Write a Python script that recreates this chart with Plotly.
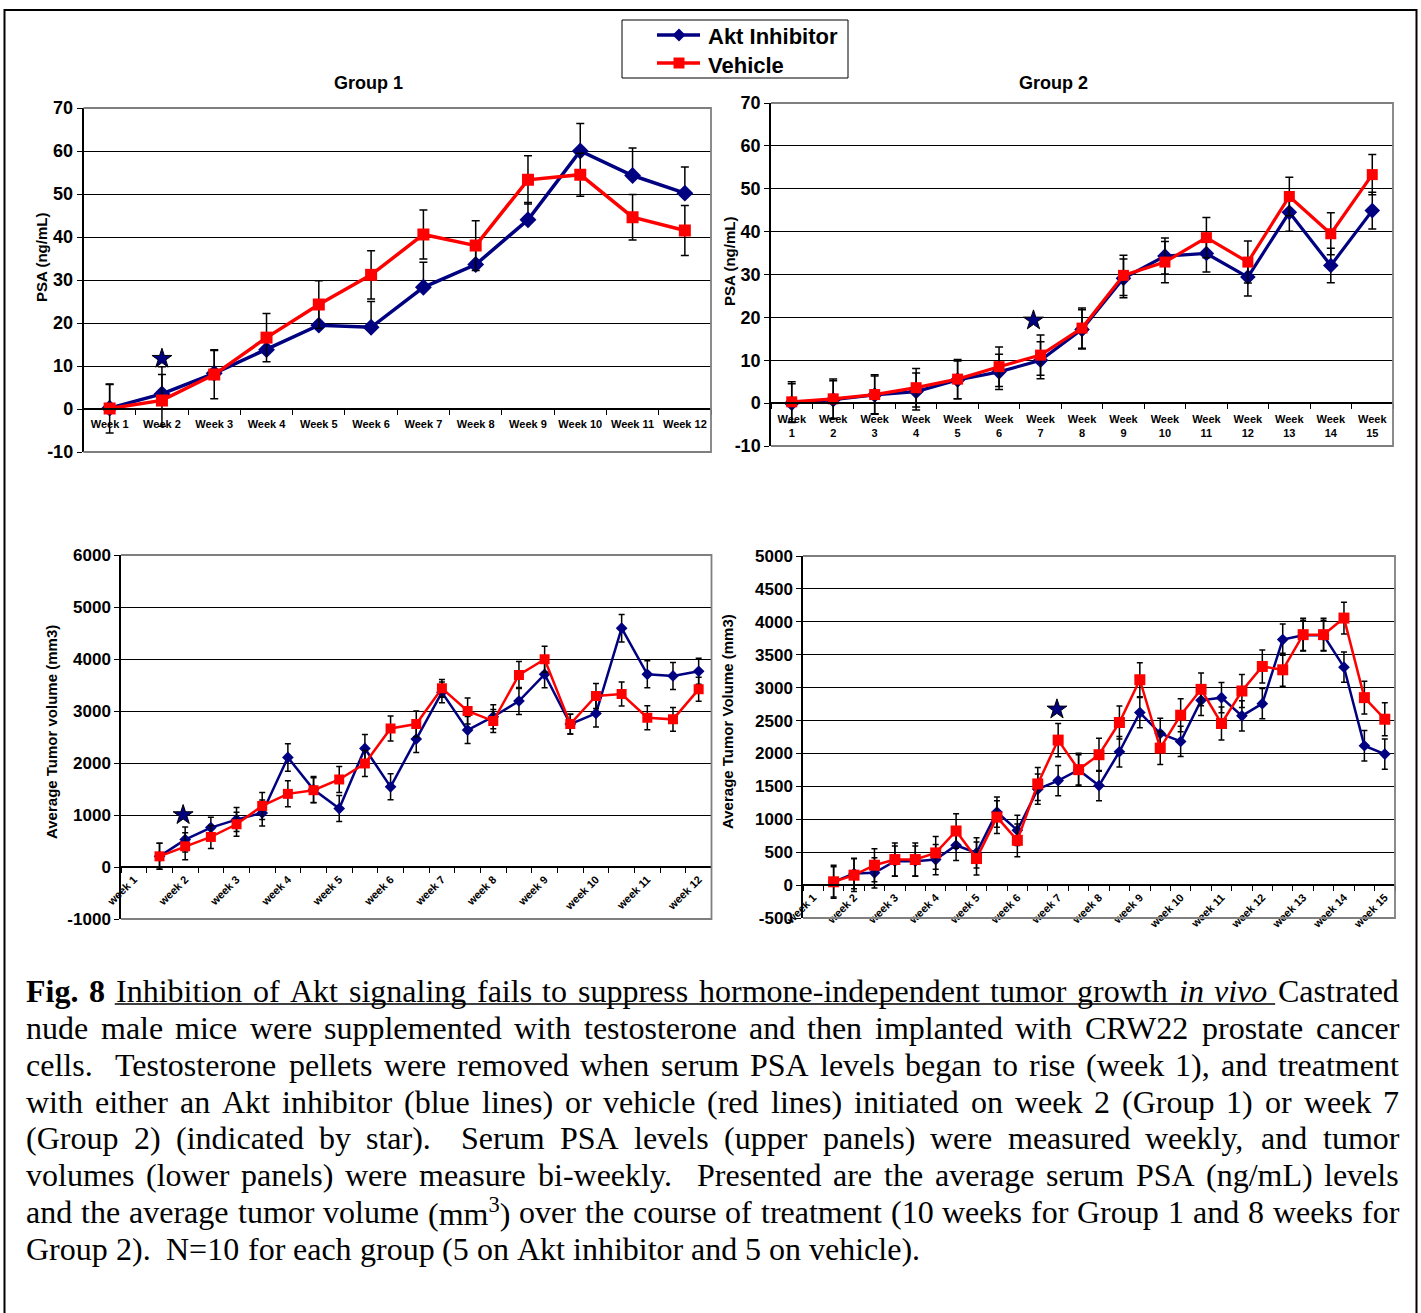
import plotly.graph_objects as go

W, H = 1421, 1313

# ---------------- data ----------------
PSA1_WEEKS = [1, 2, 3, 4, 5, 6, 7, 8, 9, 10, 11, 12]
PSA1_LABELS = ["Week 1", "Week 2", "Week 3", "Week 4", "Week 5", "Week 6",
               "Week 7", "Week 8", "Week 9", "Week 10", "Week 11", "Week 12"]
PSA1_AKT = [0.2, 3.5, 8.3, 13.8, 19.5, 19.0, 28.3, 33.6, 44.0, 60.0, 54.3, 50.2]
PSA1_AKT_ERR = [5.5, 6.3, 5.5, 3.0, 4.0, 6.0, 5.8, 4.0, 4.0, 6.4, 6.4, 6.1]
PSA1_VEH = [0.1, 2.0, 8.0, 16.6, 24.3, 31.2, 40.6, 38.0, 53.3, 54.5, 44.6, 41.5]
PSA1_VEH_ERR = [5.7, 6.0, 5.6, 5.6, 5.5, 5.6, 5.7, 5.8, 5.6, 5.0, 5.3, 5.8]
PSA1_STAR = (2.0, 11.7)
PSA_TICKS = [-10, 0, 10, 20, 30, 40, 50, 60, 70]

PSA2_WEEKS = [1, 2, 3, 4, 5, 6, 7, 8, 9, 10, 11, 12, 13, 14, 15]
PSA2_LABELS = ["Week<br>1", "Week<br>2", "Week<br>3", "Week<br>4", "Week<br>5",
               "Week<br>6", "Week<br>7", "Week<br>8", "Week<br>9", "Week<br>10",
               "Week<br>11", "Week<br>12", "Week<br>13", "Week<br>14", "Week<br>15"]
PSA2_AKT = [0.0, 0.8, 1.9, 2.7, 5.4, 7.3, 10.0, 17.2, 29.1, 34.3, 34.9, 29.4, 44.5, 32.1, 44.9]
PSA2_AKT_ERR = [4.5, 4.4, 4.4, 4.3, 4.4, 4.1, 4.3, 4.6, 4.5, 4.2, 4.3, 4.4, 4.4, 4.0, 4.3]
PSA2_VEH = [0.3, 1.0, 2.0, 3.6, 5.6, 8.5, 11.2, 17.5, 29.8, 32.9, 38.6, 32.9, 48.2, 39.5, 53.3]
PSA2_VEH_ERR = [4.7, 4.6, 4.6, 4.5, 4.6, 4.6, 4.7, 4.7, 4.7, 4.8, 4.7, 4.9, 4.5, 4.9, 4.7]
PSA2_STAR = (6.83, 19.3)

TUM1_LABEL_WEEKS = [1, 2, 3, 4, 5, 6, 7, 8, 9, 10, 11, 12]
TUM1_LABELS = ["week 1", "week 2", "week 3", "week 4", "week 5", "week 6",
               "week 7", "week 8", "week 9", "week 10", "week 11", "week 12"]
TUM1_TIMES = [1.5, 2.0, 2.5, 3.0, 3.5, 4.0, 4.5, 5.0, 5.5, 6.0, 6.5, 7.0,
              7.5, 8.0, 8.5, 9.0, 9.5, 10.0, 10.5, 11.0, 11.5, 12.0]
TUM1_AKT = [205, 527, 758, 912, 1040, 2107, 1490, 1124, 2280, 1541, 2460, 3359,
            2633, 2890, 3192, 3706, 2749, 2954, 4592, 3706, 3674, 3764]
TUM1_AKT_ERR = [250, 240, 200, 230, 250, 265, 250, 250, 270, 250, 260, 200,
                260, 230, 260, 260, 190, 260, 265, 260, 260, 250]
TUM1_VEH = [205, 398, 578, 822, 1175, 1407, 1477, 1683, 1991, 2665, 2749, 3436,
            3000, 2807, 3693, 3995, 2749, 3288, 3327, 2871, 2839, 3417]
TUM1_VEH_ERR = [250, 260, 220, 230, 260, 250, 240, 250, 250, 240, 250, 170,
                250, 220, 260, 250, 190, 240, 230, 230, 230, 230]
TUM1_STAR = (1.96, 1000)
TUM1_TICKS = [-1000, 0, 1000, 2000, 3000, 4000, 5000, 6000]

TUM2_LABEL_WEEKS = [1, 2, 3, 4, 5, 6, 7, 8, 9, 10, 11, 12, 13, 14, 15]
TUM2_LABELS = ["week 1", "week 2", "week 3", "week 4", "week 5", "week 6", "week 7",
               "week 8", "week 9", "week 10", "week 11", "week 12", "week 13",
               "week 14", "week 15"]
TUM2_TIMES = [1.5, 2.0, 2.5, 3.0, 3.5, 4.0, 4.5, 5.0, 5.5, 6.0, 6.5, 7.0, 7.5, 8.0,
              8.5, 9.0, 9.5, 10.0, 10.5, 11.0, 11.5, 12.0, 12.5, 13.0, 13.5, 14.0,
              14.5, 15.0]
TUM2_AKT = [50, 176, 186, 363, 363, 388, 605, 489, 1109, 832, 1457, 1588, 1749, 1512,
            2026, 2621, 2303, 2182, 2807, 2848, 2571, 2757, 3730, 3795, 3795, 3311,
            2117, 1991]
TUM2_AKT_ERR = [230, 230, 230, 230, 230, 230, 230, 230, 230, 230, 230, 230, 230, 230,
                230, 230, 230, 230, 230, 230, 230, 230, 237, 230, 230, 230, 230, 230]
TUM2_VEH = [50, 151, 302, 388, 388, 489, 822, 403, 1033, 680, 1537, 2203, 1754, 1981,
            2470, 3120, 2082, 2581, 2974, 2455, 2949, 3322, 3271, 3805, 3805, 4057,
            2848, 2520]
TUM2_VEH_ERR = [250, 250, 250, 250, 250, 250, 262, 250, 250, 250, 250, 252, 250, 250,
                250, 257, 250, 250, 250, 250, 250, 250, 250, 250, 250, 242, 250, 250]
TUM2_STAR = (6.97, 2670)
TUM2_TICKS = [-500, 0, 500, 1000, 1500, 2000, 2500, 3000, 3500, 4000, 4500, 5000]

SERIES_NAMES = ["Akt Inhibitor", "Vehicle"]
BLUE = "#000080"
RED = "#FF0000"

CAPTION_LINE1 = [("Fig.", "b"), ("8", "b"), ("Inhibition", "u"), ("of", "u"), ("Akt", "u"),
                 ("signaling", "u"), ("fails", "u"), ("to", "u"), ("suppress", "u"),
                 ("hormone-independent", "u"), ("tumor", "u"), ("growth", "u"),
                 ("in", "iu"), ("vivo", "iu"), ("Castrated", "")]
CAPTION_LINES = [
    "nude male mice were supplemented with testosterone and then implanted with CRW22 prostate cancer",
    "cells.  Testosterone pellets were removed when serum PSA levels began to rise (week 1), and treatment",
    "with either an Akt inhibitor (blue lines) or vehicle (red lines) initiated on week 2 (Group 1) or week 7",
    "(Group 2) (indicated by star).  Serum PSA levels (upper panels) were measured weekly, and tumor",
    "volumes (lower panels) were measure bi-weekly.  Presented are the average serum PSA (ng/mL) levels",
    "and the average tumor volume (mm<sup>3</sup>) over the course of treatment (10 weeks for Group 1 and 8 weeks for",
    "Group 2).  N=10 for each group (5 on Akt inhibitor and 5 on vehicle).",
]

# ---------------- helpers ----------------
def px(x):
    return x / W


def py(y):
    return 1 - y / H


CHART_FONT = "Liberation Sans"
SERIF = "Liberation Serif"

fig = go.Figure()

panels = [
    dict(key="", l=83.5, r=711, t=108, b=452, yt=PSA_TICKS, xr=(0.5, 12.5),
         tickx=PSA1_WEEKS, tickt=PSA1_LABELS, angle=0, yfs=18, boundary=(0.5, 1), stand=5),
    dict(key="2", l=771, r=1393, t=103, b=446, yt=PSA_TICKS, xr=(0.5, 15.5),
         tickx=PSA2_WEEKS, tickt=PSA2_LABELS, angle=0, yfs=18, boundary=(0.5, 1), stand=6),
    dict(key="3", l=121, r=711.5, t=555, b=919, yt=TUM1_TICKS, xr=(0.75, 12.25),
         tickx=TUM1_LABEL_WEEKS, tickt=TUM1_LABELS, angle=-45, yfs=17, boundary=(0.75, 0.5), stand=1),
    dict(key="4", l=803, r=1395, t=556, b=918, yt=TUM2_TICKS, xr=(0.75, 15.25),
         tickx=TUM2_LABEL_WEEKS, tickt=TUM2_LABELS, angle=-45, yfs=17, boundary=(0.75, 0.5), stand=1),
]

shapes = []
for p in panels:
    y0, y1 = p["yt"][0], p["yt"][-1]
    zero_px = p["t"] + (y1 - 0) / (y1 - y0) * (p["b"] - p["t"])
    xname = "xaxis" + p["key"]
    yname = "yaxis" + p["key"]
    fig.layout[xname] = dict(
        domain=[px(p["l"]), px(p["r"])], range=list(p["xr"]), anchor="free",
        position=py(zero_px), showgrid=False, zeroline=False,
        showline=True, linecolor="black", linewidth=1.5,
        tickmode="array", tickvals=p["tickx"], ticktext=p["tickt"], ticks="",
        tickangle=p["angle"], automargin=False, ticklabelstandoff=p["stand"],
        tickfont=dict(family=CHART_FONT, size=11, color="black", weight="bold"),
        minor=dict(tickmode="linear", tick0=p["boundary"][0], dtick=p["boundary"][1],
                   ticks="outside", ticklen=5, tickcolor="black", tickwidth=1.2,
                   showgrid=False),
    )
    fig.layout[yname] = dict(
        domain=[py(p["b"]), py(p["t"])], range=[y0, y1], anchor="x" + p["key"],
        tickmode="array", tickvals=p["yt"], ticktext=[str(v) for v in p["yt"]],
        showgrid=True, gridcolor="black",
        gridwidth=1.3, zeroline=False, showline=True, linecolor="black", linewidth=1.5,
        ticks="outside", ticklen=5, tickcolor="black", tickwidth=1.2, automargin=False,
        tickfont=dict(family=CHART_FONT, size=p["yfs"], color="black", weight="bold"),
    )
    # grey frame on top / right / bottom
    shapes.append(dict(
        type="path", xref="paper", yref="paper", layer="above",
        path=f"M {px(p['l'])},{py(p['t'])} L {px(p['r'])},{py(p['t'])} "
             f"L {px(p['r'])},{py(p['b'])} L {px(p['l'])},{py(p['b'])}",
        line=dict(color="#7f7f7f", width=1.8)))


def add_series(xs, akt, akt_err, veh, veh_err, key, lw, msq, mdia, capw, akt_plus_only=False):
    xa = "x" + key
    ya = "y" + key
    if akt_plus_only:
        ey = dict(type="data", symmetric=False, array=akt_err, arrayminus=[0] * len(akt_err),
                  color="black", thickness=1.5, width=capw)
    else:
        ey = dict(type="data", array=akt_err, color="black", thickness=1.5, width=capw)
    fig.add_trace(go.Scatter(
        x=xs, y=akt, name=SERIES_NAMES[0], mode="lines+markers", xaxis=xa, yaxis=ya,
        line=dict(color=BLUE, width=lw), marker=dict(symbol="diamond", size=mdia, color=BLUE),
        error_y=ey, showlegend=False))
    fig.add_trace(go.Scatter(
        x=xs, y=veh, name=SERIES_NAMES[1], mode="lines+markers", xaxis=xa, yaxis=ya,
        line=dict(color=RED, width=lw), marker=dict(symbol="square", size=msq, color=RED),
        error_y=dict(type="data", array=veh_err, color="black", thickness=1.5, width=capw),
        showlegend=False))


add_series(PSA1_WEEKS, PSA1_AKT, PSA1_AKT_ERR, PSA1_VEH, PSA1_VEH_ERR, "", 3.5, 12, 13, 4,
           akt_plus_only=True)
add_series(PSA2_WEEKS, PSA2_AKT, PSA2_AKT_ERR, PSA2_VEH, PSA2_VEH_ERR, "2", 3.2, 11, 12, 4)
add_series(TUM1_TIMES, TUM1_AKT, TUM1_AKT_ERR, TUM1_VEH, TUM1_VEH_ERR, "3", 2.5, 10, 9, 3)
add_series(TUM2_TIMES, TUM2_AKT, TUM2_AKT_ERR, TUM2_VEH, TUM2_VEH_ERR, "4", 2.5, 11, 9, 3)

for key, star in [("", PSA1_STAR), ("2", PSA2_STAR), ("3", TUM1_STAR), ("4", TUM2_STAR)]:
    fig.add_trace(go.Scatter(
        x=[star[0]], y=[star[1]], mode="markers", xaxis="x" + key, yaxis="y" + key,
        marker=dict(symbol="star", size=15, color=BLUE, line=dict(color="black", width=1)),
        showlegend=False, hoverinfo="skip"))

annotations = []


def chart_text(text, x, y, size, angle=0, anchor="center"):
    annotations.append(dict(
        text=text, x=px(x), y=py(y), xref="paper", yref="paper", showarrow=False,
        textangle=angle, xanchor=anchor, yanchor="middle", borderpad=0,
        font=dict(family=CHART_FONT, size=size, color="black", weight="bold")))


chart_text("Group 1", 368, 83, 18)
chart_text("Group 2", 1053, 83, 18)
chart_text("PSA (ng/mL)", 41, 258, 15, -90)
chart_text("PSA (ng/mL)", 729, 262, 15, -90)
chart_text("Average Tumor volume (mm3)", 51, 732, 15, -90)
chart_text("Average Tumor Volume (mm3)", 727, 722, 15, -90)

# ---------------- legend (drawn box, samples and labels) ----------------
LEG_ROWS = [(SERIES_NAMES[0], BLUE, "diamond", 37), (SERIES_NAMES[1], RED, "square", 65)]
shapes.append(dict(type="rect", xref="paper", yref="paper", x0=px(622), x1=px(848),
                   y0=py(20), y1=py(78), line=dict(color="black", width=1)))
for name, color, sym, yc in LEG_ROWS:
    ys = yc - 2
    shapes.append(dict(type="line", xref="paper", yref="paper", x0=px(657), x1=px(700),
                       y0=py(ys), y1=py(ys), line=dict(color=color, width=3.5)))
    cx = 679
    if sym == "diamond":
        s = 6.5
        shapes.append(dict(type="path", xref="paper", yref="paper",
                           path=f"M {px(cx - s)},{py(ys)} L {px(cx)},{py(ys - s)} "
                                f"L {px(cx + s)},{py(ys)} L {px(cx)},{py(ys + s)} Z",
                           fillcolor=color, line=dict(color=color, width=0)))
    else:
        s = 5.5
        shapes.append(dict(type="rect", xref="paper", yref="paper",
                           x0=px(cx - s), x1=px(cx + s), y0=py(ys - s), y1=py(ys + s),
                           fillcolor=color, line=dict(color=color, width=0)))
    chart_text(name, 707, yc, 22, anchor="left")

# ---------------- caption (justified, word by word) ----------------
R = dict(zip("abcdefghijklmnopqrstuvwxyz",
             [444, 500, 444, 500, 444, 333, 500, 500, 278, 278, 500, 278, 778, 500, 500, 500,
              500, 333, 389, 278, 500, 500, 722, 500, 500, 444]))
R.update(zip("ABCDEFGHIJKLMNOPQRSTUVWXYZ",
             [722, 667, 667, 722, 611, 556, 722, 722, 333, 389, 722, 611, 889, 722, 722, 556,
              722, 667, 556, 611, 722, 722, 944, 722, 722, 611]))
R.update({c: 500 for c in "0123456789"})
R.update({" ": 250, ".": 250, ",": 250, "(": 333, ")": 333, "-": 333, "=": 564, "/": 278,
          ":": 278, ";": 278})
B = dict(R)
B.update({"F": 611, "i": 278, "g": 500})
I = dict(R)
I.update({"v": 444})

FS = 32
LEFT, RIGHT = 25, 1398
LINE_Y0, LINE_DY = 991, 36.85


def word_width(word, style):
    table = B if "b" in style else (I if "i" in style else R)
    if "<sup>" in word:
        pre, rest = word.split("<sup>")
        sup, post = rest.split("</sup>")
        return (sum(table.get(c, 500) for c in pre + post) +
                0.7 * sum(table.get(c, 500) for c in sup)) * FS / 1000
    return sum(table.get(c, 500) for c in word) * FS / 1000


def layout_line(tokens, gaps, justify):
    widths = [word_width(t, s) for t, s in tokens]
    sp = 250 * FS / 1000
    natural = sum(widths) + sum(gaps) * sp
    extra = (RIGHT - LEFT - natural) / sum(gaps) if justify else 0
    xs = []
    x = LEFT
    for i, w in enumerate(widths):
        xs.append(x)
        x += w
        if i < len(gaps):
            x += gaps[i] * (sp + extra)
    return xs


def add_words(tokens, xs, y):
    for (t, s), x in zip(tokens, xs):
        txt = t
        if "i" in s:
            txt = f"<i>{txt}</i>"
        if "b" in s:
            txt = f"<b>{txt}</b>"
        annotations.append(dict(
            text=txt, x=px(x), y=py(y), xref="paper", yref="paper", showarrow=False,
            xanchor="left", yanchor="middle", borderpad=0,
            font=dict(family=SERIF, size=FS, color="black")))


line1_x = layout_line(CAPTION_LINE1, [1] * (len(CAPTION_LINE1) - 1), True)
add_words(CAPTION_LINE1, line1_x, LINE_Y0)
ul_start = line1_x[2]
ul_end = line1_x[-1] - 2
shapes.append(dict(type="line", xref="paper", yref="paper",
                   x0=px(ul_start), x1=px(ul_end), y0=py(LINE_Y0 + 13), y1=py(LINE_Y0 + 13),
                   line=dict(color="black", width=1.5)))

for li, text in enumerate(CAPTION_LINES):
    parts = text.split(" ")
    tokens, gaps = [], []
    pending = 0
    for part in parts:
        if part == "":
            pending += 1
            continue
        if tokens:
            gaps.append(pending + 1)
        tokens.append((part, ""))
        pending = 0
    justify = li < len(CAPTION_LINES) - 1
    xs = layout_line(tokens, gaps, justify)
    add_words(tokens, xs, LINE_Y0 + (li + 1) * LINE_DY)

# outer border
shapes.append(dict(type="rect", xref="paper", yref="paper", x0=px(4.5), x1=px(1416.5),
                   y0=py(10), y1=py(1330), line=dict(color="black", width=2)))

fig.update_layout(
    width=W, height=H, margin=dict(l=0, r=0, t=0, b=0),
    paper_bgcolor="white", plot_bgcolor="white",
    shapes=shapes, annotations=annotations, showlegend=False,
    hovermode=False,
)

fig.write_html("out.html", config={"displayModeBar": False},
               post_script="document.body.style.margin='0';document.body.style.overflow='hidden';")
